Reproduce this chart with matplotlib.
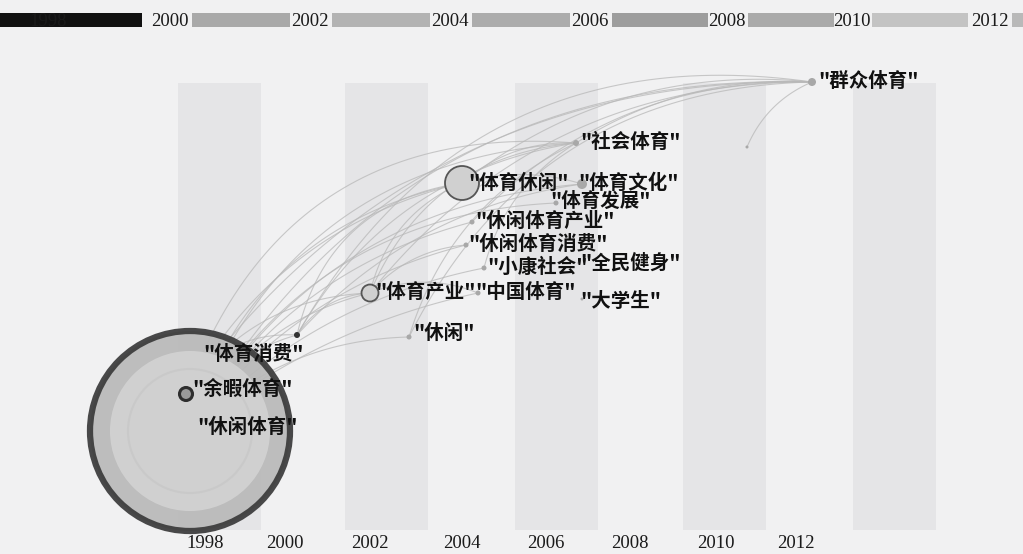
import numpy as np
import matplotlib.pyplot as plt
from matplotlib.patches import Circle

plt.rcParams['font.family'] = ['Noto Sans CJK SC', 'DejaVu Sans']

# time zone bar on top
top_years = ['1998', '2000', '2002', '2004', '2006', '2008', '2010', '2012']
top_year_x = [48, 170, 310, 450, 590, 727, 852, 990]
bar_start = [0, 192, 332, 472, 612, 748, 872, 1012]
bar_end = [142, 290, 430, 570, 708, 834, 968, 1023]
bar_colors = ['#111111', '#a9a9a9', '#b3b3b3', '#acacac', '#9d9d9d', '#aaaaaa', '#c3c3c3', '#b9b9b9']

# bottom year labels and stripes
bottom_years = ['1998', '2000', '2002', '2004', '2006', '2008', '2010', '2012']
bottom_year_x = [205, 285, 370, 462, 546, 630, 716, 796]
stripe_left = [178, 345, 515, 683, 853]

# nodes: keyword, x, y, radius
node_names = ['休闲体育', '余暇体育', '体育消费', '体育产业', '休闲', '体育休闲', '社会体育', '群众体育',
              '', '体育文化', '体育发展', '休闲体育产业', '休闲体育消费', '小康社会', '中国体育', '全民健身', '大学生']
node_x = [190, 186, 297, 370, 409, 462, 576, 812, 747, 582, 556, 472, 466, 484, 478, 579, 582]
node_y = [431, 394, 335, 293, 337, 183, 143, 82, 147, 184, 203, 222, 245, 268, 293, 263, 299]
node_r = [100, 6.5, 3, 8.5, 2.5, 17, 3, 4, 1.5, 5, 2.5, 2.5, 2.5, 2.5, 2.5, 1.5, 1.5]

# labels: text, left x, centre y
label_text = ['"群众体育"', '"社会体育"', '"体育休闲"', '"体育文化"', '"体育发展"', '"休闲体育产业"',
              '"休闲体育消费"', '"小康社会"', '"全民健身"', '"体育产业"', '"中国体育"', '"大学生"',
              '"休闲"', '"体育消费"', '"余暇体育"', '"休闲体育"']
label_x = [818, 580, 468, 578, 550, 475, 468, 487, 580, 375, 475, 580, 413, 203, 192, 197]
label_y = [81, 142, 183, 183, 201, 221, 244, 267, 263, 293, 293, 301, 333, 355, 389, 427]

# links between nodes (source, target, bend)
edges = [(0, 2, 0.25), (0, 3, 0.22), (0, 5, 0.3), (0, 6, 0.33), (0, 7, 0.3), (0, 4, 0.2),
         (0, 9, 0.26), (0, 11, 0.2), (0, 12, 0.18), (0, 13, 0.16), (0, 14, 0.12), (0, 10, 0.28),
         (1, 2, 0.3), (1, 3, 0.25), (1, 5, 0.22), (1, 7, 0.26), (1, 6, 0.38), (1, 0, 0.1),
         (2, 3, 0.25), (2, 5, 0.34), (2, 6, 0.24), (2, 7, 0.34), (2, 9, 0.18),
         (3, 5, 0.25), (3, 6, 0.3), (3, 7, 0.24), (3, 14, 0.2), (3, 12, 0.2),
         (5, 6, 0.2), (5, 7, 0.2), (5, 9, 0.15), (8, 7, 0.2), (6, 7, 0.16),
         (4, 7, 0.3), (4, 6, 0.22), (11, 7, 0.22), (13, 6, 0.2)]

fig = plt.figure(figsize=(10.23, 5.54), dpi=100)
fig.patch.set_facecolor('#f1f1f2')
ax = fig.add_axes([0, 0, 1, 1])
ax.set_facecolor('#f1f1f2')
ax.set_xlim(0, 1023)
ax.set_ylim(554, 0)
ax.axis('off')

# stripes
ax.bar(stripe_left, 447, width=83, bottom=83, align='edge', color='#e5e5e7', zorder=0)

# top bar
for s, e, c in zip(bar_start, bar_end, bar_colors):
    ax.bar(s, 14, width=e - s, bottom=13, align='edge', color=c, zorder=1)
for yr, x in zip(top_years, top_year_x):
    ax.text(x, 21, yr, ha='center', va='center', fontsize=13.5, family='Liberation Serif',
            color='#1a1a1a', zorder=2)
for yr, x in zip(bottom_years, bottom_year_x):
    ax.text(x, 543, yr, ha='center', va='center', fontsize=13.5, family='Liberation Serif',
            color='#1a1a1a', zorder=2)

# curved links
t = np.linspace(0, 1, 60)
for i, j, k in edges:
    p0 = np.array([node_x[i], node_y[i]], float)
    p1 = np.array([node_x[j], node_y[j]], float)
    d = p1 - p0
    ctrl = (p0 + p1) / 2 + k * np.array([d[1], -d[0]])
    pts = ((1 - t)[:, None] ** 2 * p0 + 2 * ((1 - t) * t)[:, None] * ctrl + (t ** 2)[:, None] * p1)
    ax.plot(pts[:, 0], pts[:, 1], color='#b8b8b8', lw=0.8, alpha=0.75, zorder=3)

# big node with rings
cx, cy, R = node_x[0], node_y[0], node_r[0]
ax.add_patch(Circle((cx, cy), R, facecolor='#b9b9b9', edgecolor='#3a3a3a', lw=4.5, alpha=0.92, zorder=4))
ax.add_patch(Circle((cx, cy), R * 0.8, facecolor='#d3d3d3', edgecolor='none', alpha=0.9, zorder=4))
ax.add_patch(Circle((cx, cy), R * 0.62, facecolor='none', edgecolor='#c9c9c9', lw=1.5, zorder=4))

# other nodes
for n in range(1, len(node_x)):
    r = node_r[n]
    if n == 1:
        ax.add_patch(Circle((node_x[n], node_y[n]), r, facecolor='#9a9a9a', edgecolor='#2e2e2e', lw=2.2, zorder=5))
    elif n in (3, 5):
        ax.add_patch(Circle((node_x[n], node_y[n]), r, facecolor='#d0d0d0', edgecolor='#555555', lw=1.3, zorder=5))
    elif n == 2:
        ax.add_patch(Circle((node_x[n], node_y[n]), r, facecolor='#333333', edgecolor='none', zorder=5))
    else:
        ax.add_patch(Circle((node_x[n], node_y[n]), r, facecolor='#a8a8a8', edgecolor='none', zorder=5))

# keyword labels
for txt, x, y in zip(label_text, label_x, label_y):
    ax.text(x, y, txt, ha='left', va='center', fontsize=14, fontweight='bold', color='#111111', zorder=6)

fig.savefig('out.png', dpi=100, facecolor=fig.get_facecolor())
